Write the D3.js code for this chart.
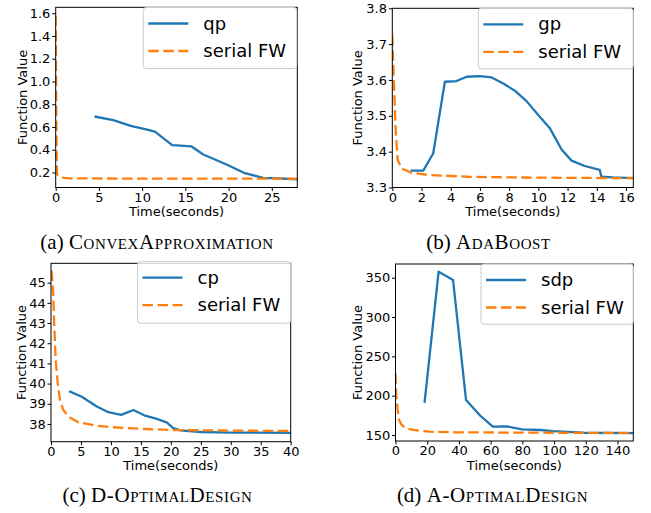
<!DOCTYPE html>
<html>
<head>
<meta charset="utf-8">
<script src="https://cdn.jsdelivr.net/npm/d3@7"></script>
<style>
  html, body { margin: 0; padding: 0; background: #fff; }
  svg { display: block; }
  .tick text { font-family: "DejaVu Sans", sans-serif; font-size: 13px; fill: #000; }
  .tick line { stroke: #000; }
</style>
</head>
<body>
<svg id="chart" width="651" height="513"></svg>
<script>
// ---------------- data ----------------
// (a) ConvexApproximation
const aQpTime  = [4.62, 6.66, 8.78, 10.1, 11.48, 13.48, 15.72, 17.07, 18.3, 19.95, 21.88, 24.0, 26.0, 27.9];
const aQpValue = [0.69, 0.66, 0.607, 0.586, 0.56, 0.44, 0.429, 0.358, 0.318, 0.264, 0.194, 0.153, 0.147, 0.14];
const aFwTime  = [0, 0.05, 0.1, 0.15, 0.3, 0.5, 1.0, 1.6, 3, 6, 12, 20, 27.9];
const aFwValue = [1.58, 0.9, 0.4, 0.185, 0.17, 0.162, 0.152, 0.149, 0.148, 0.147, 0.146, 0.146, 0.145];
const aXTicks = [0, 5, 10, 15, 20, 25];
const aYTicks = [0.2, 0.4, 0.6, 0.8, 1.0, 1.2, 1.4, 1.6];

// (b) AdaBoost
const bGpTime  = [1.33, 2.12, 2.80, 3.60, 4.40, 5.09, 6.0, 6.8, 7.6, 8.39, 9.19, 9.99, 10.79, 11.59, 12.27, 13.18, 14.2, 14.32, 15.1, 16.5];
const bGpValue = [3.347, 3.347, 3.395, 3.595, 3.597, 3.609, 3.611, 3.607, 3.590, 3.570, 3.541, 3.502, 3.465, 3.406, 3.375, 3.360, 3.349, 3.330, 3.328, 3.326];
const bFwTime  = [0.0, 0.12, 0.23, 0.37, 0.64, 1.33, 2.47, 5.2, 8.4, 12, 16.5];
const bFwValue = [3.725, 3.581, 3.46, 3.377, 3.353, 3.341, 3.335, 3.330, 3.328, 3.327, 3.326];
const bXTicks = [0, 2, 4, 6, 8, 10, 12, 14, 16];
const bYTicks = [3.3, 3.4, 3.5, 3.6, 3.7, 3.8];

// (c) D-OptimalDesign
const cCpTime  = [3.18, 5.13, 7.64, 9.58, 11.7, 13.76, 15.7, 17.65, 19.3, 20.4, 21.6, 25, 30, 40];
const cCpValue = [39.6, 39.35, 38.86, 38.58, 38.45, 38.69, 38.41, 38.25, 38.08, 37.79, 37.68, 37.6, 37.57, 37.56];
const cFwTime  = [0.1, 0.38, 0.55, 0.78, 1.12, 1.5, 2.06, 2.9, 4.57, 7.36, 10.1, 15.7, 20.4, 30, 40];
const cFwValue = [45.6, 44.47, 42.82, 41.17, 40.02, 39.19, 38.69, 38.36, 38.08, 37.92, 37.84, 37.75, 37.70, 37.67, 37.65];
const cXTicks = [0, 5, 10, 15, 20, 25, 30, 35, 40];
const cYTicks = [38, 39, 40, 41, 42, 43, 44, 45];

// (d) A-OptimalDesign
const dSdpTime  = [18.4, 27.2, 36.3, 44.5, 53.5, 61.4, 70.2, 79.7, 91.2, 99.6, 112, 118.4, 150];
const dSdpValue = [192.3, 357.6, 347, 194.5, 174.5, 160.6, 161, 157.2, 156.4, 155, 153.8, 152.9, 152.5];
const dFwTime  = [0, 0.5, 1.2, 2.1, 3.5, 5.2, 8, 11.5, 16, 22, 38.8, 80, 150];
const dFwValue = [228, 200, 185, 170, 164, 160.6, 158, 156.4, 155.2, 154.2, 153.4, 153, 152.6];
const dXTicks = [0, 20, 40, 60, 80, 100, 120, 140];
const dYTicks = [150, 200, 250, 300, 350];

const seriesNames = ["qp", "gp", "cp", "sdp"];
const fwName = "serial FW";
const captionLabels = ["(a) ", "(b) ", "(c) ", "(d) "];
const captionNames = ["ConvexApproximation", "AdaBoost", "D-OptimalDesign", "A-OptimalDesign"];
const xLabel = "Time(seconds)";
const yLabel = "Function Value";

// ---------------- layout ----------------
const BLUE = "#1f77b4", ORANGE = "#ff7f0e";
const zip = (t, v) => t.map((d, i) => ({ t: d, v: v[i] }));

const panels = [
  { rect: [55.7, 297.3, 7.3, 187.5], xd: [0, 27.95], yd: [0.068, 1.652],
    s: zip(aQpTime, aQpValue), fw: zip(aFwTime, aFwValue), xt: aXTicks, yt: aYTicks, yf: d3.format(".1f"),
    leg: [143.3, 7.5, 153.5, 61], ylx: 26.5, xlb: 216, cap: [157, 249] },
  { rect: [392.3, 633.3, 8.3, 187.5], xd: [0, 16.5], yd: [3.3, 3.8],
    s: zip(bGpTime, bGpValue), fw: zip(bFwTime, bFwValue), xt: bXTicks, yt: bYTicks, yf: d3.format(".1f"),
    leg: [478.3, 8.3, 155, 60.5], ylx: 362.4, xlb: 216, cap: [488.5, 249] },
  { rect: [51, 290.7, 263.3, 441.7], xd: [0, 40], yd: [37.12, 45.96],
    s: zip(cCpTime, cCpValue), fw: zip(cFwTime, cFwValue), xt: cXTicks, yt: cYTicks, yf: d3.format("d"),
    leg: [137.5, 261.7, 153.2, 61.5], ylx: 25.5, xlb: 469.5, cap: [157.5, 502] },
  { rect: [395.5, 633.3, 264, 441], xd: [0, 150], yd: [142.4, 367.4],
    s: zip(dSdpTime, dSdpValue), fw: zip(dFwTime, dFwValue), xt: dXTicks, yt: dYTicks, yf: d3.format("d"),
    leg: [481, 264, 152.3, 60.3], ylx: 362.4, xlb: 469.5, cap: [492.5, 502] }
];

const svg = d3.select("#chart");

panels.forEach((p, i) => {
  const [l, r, t, b] = p.rect;
  const x = d3.scaleLinear().domain(p.xd).range([l, r]);
  const y = d3.scaleLinear().domain(p.yd).range([b, t]);
  const g = svg.append("g");

  const clipId = "clip" + i;
  g.append("clipPath").attr("id", clipId)
    .append("rect").attr("x", l).attr("y", t).attr("width", r - l).attr("height", b - t);

  const line = d3.line().x(d => x(d.t)).y(d => y(d.v));
  const lines = g.append("g").attr("clip-path", `url(#${clipId})`);
  lines.append("path").datum(p.s).attr("d", line)
    .attr("fill", "none").attr("stroke", BLUE).attr("stroke-width", 2.3)
    .attr("stroke-linejoin", "round").attr("stroke-linecap", "square");
  lines.append("path").datum(p.fw).attr("d", line)
    .attr("fill", "none").attr("stroke", ORANGE).attr("stroke-width", 2.3)
    .attr("stroke-dasharray", "10.5,4.5");

  // axes
  const xa = g.append("g").attr("transform", `translate(0,${b})`)
    .call(d3.axisBottom(x).tickValues(p.xt).tickSize(3.5).tickPadding(1.5).tickFormat(d3.format("d")));
  const ya = g.append("g").attr("transform", `translate(${l},0)`)
    .call(d3.axisLeft(y).tickValues(p.yt).tickSize(3.5).tickPadding(1.8).tickFormat(p.yf));
  xa.select(".domain").remove();
  ya.select(".domain").remove();
  g.selectAll(".tick line").attr("stroke-width", 1);

  // frame
  g.append("rect").attr("x", l).attr("y", t).attr("width", r - l).attr("height", b - t)
    .attr("fill", "none").attr("stroke", "#000").attr("stroke-width", 1);

  // axis labels
  g.append("text").attr("x", (l + r) / 2).attr("y", p.xlb)
    .attr("text-anchor", "middle").attr("font-family", "DejaVu Sans, sans-serif")
    .attr("font-size", 13).text(xLabel);
  g.append("text").attr("transform", `translate(${p.ylx},${(t + b) / 2}) rotate(-90)`)
    .attr("text-anchor", "middle").attr("font-family", "DejaVu Sans, sans-serif")
    .attr("font-size", 13).text(yLabel);

  // legend
  const [lx, ly, lw, lh] = p.leg;
  const lg = g.append("g");
  lg.append("rect").attr("x", lx).attr("y", ly).attr("width", lw).attr("height", lh)
    .attr("rx", 3).attr("fill", "#fff").attr("fill-opacity", 0.8)
    .attr("stroke", "#cccccc").attr("stroke-width", 1);
  const entries = [
    { name: seriesNames[i], color: BLUE, dash: null },
    { name: fwName, color: ORANGE, dash: "10.5,4.5" }
  ];
  entries.forEach((e, k) => {
    const yy = ly + 16 + k * 27.5;
    const ln = lg.append("line").attr("x1", lx + 5).attr("x2", lx + 45)
      .attr("y1", yy).attr("y2", yy).attr("stroke", e.color).attr("stroke-width", 2.3);
    if (e.dash) ln.attr("stroke-dasharray", e.dash);
    lg.append("text").attr("x", lx + 60).attr("y", yy + 6)
      .attr("font-family", "DejaVu Sans, sans-serif").attr("font-size", 18)
      .attr("fill", "#000").text(e.name);
  });

  // caption
  const cap = svg.append("text").attr("x", p.cap[0]).attr("y", p.cap[1])
    .attr("text-anchor", "middle").attr("font-family", "Liberation Serif, serif")
    .attr("font-size", 21).attr("fill", "#000");
  cap.append("tspan").text(captionLabels[i]);
  cap.append("tspan").style("font-variant", "small-caps").attr("letter-spacing", 0.6).text(captionNames[i]);
});
</script>
</body>
</html>
